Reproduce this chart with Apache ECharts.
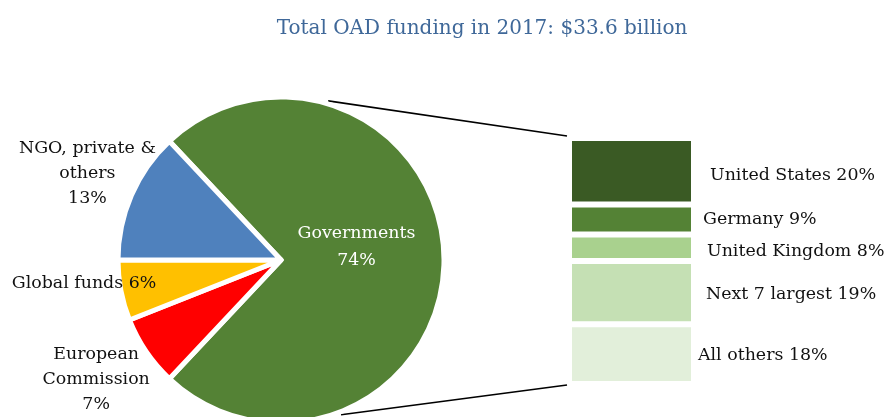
<!DOCTYPE html>
<html>
<head>
<meta charset="utf-8">
<script src="https://cdn.jsdelivr.net/npm/echarts@6/dist/echarts.min.js"></script>
<style>
  html, body { margin: 0; padding: 0; background: #fff; }
  #chart { width: 892px; height: 417px; }
</style>
</head>
<body>
<div id="chart"></div>
<script>
// Funding sources (share of total, %)
const sourceNames = ['Governments', 'European\nCommission', 'Global funds', 'NGO, private &\nothers'];
const sourceValues = [74, 7, 6, 13];

// Breakdown of the government share (%)
const donorNames = ['United States', 'Germany', 'United Kingdom', 'Next 7 largest', 'All others'];
const donorValues = [20, 9, 8, 19, 18];

const titleText = 'Total OAD funding in 2017: $33.6 billion';

const FONT = 'DejaVu Serif';
const sourceColors = ['#548235', '#FF0000', '#FFC000', '#4F81BD'];
const donorColors = ['#3A5A24', '#548235', '#A9D18E', '#C5E0B4', '#E2EFDA'];
// label nudges for the breakdown column [distance, dy]
const donorLabelNudge = [[16, 4], [9, 0], [13, 4], [12, 2], [4, 1]];
// label shifts for the pie
const sourceLabelShift = [[-9, -13], [-115, 72], [-114, 8], [-116, -53]];

const PIE_CENTER = [281, 260];
const PIE_R = 163;
const govSpan = sourceValues[0] / 100 * 360;
const startAngle = 180 - (360 - govSpan) / 2; // small slices centred on the left

// breakdown column geometry
const GRID = { left: 569, top: 138, width: 125, height: 246 };
const donorTotal = donorValues.reduce((a, b) => a + b, 0);

const chart = echarts.init(document.getElementById('chart'), null, { renderer: 'canvas' });

const donorSeries = donorNames.map((name, i) => ({
  type: 'bar',
  name: name,
  stack: 'gov',
  barWidth: GRID.width,
  data: [donorValues[i]],
  itemStyle: { color: donorColors[i], borderColor: '#ffffff', borderWidth: 3 },
  label: {
    show: true,
    position: 'right',
    distance: donorLabelNudge[i][0],
    offset: [0, donorLabelNudge[i][1]],
    formatter: (p) => p.seriesName + ' ' + p.value + '%',
    fontFamily: FONT,
    fontSize: 17.4,
    color: '#111'
  },
  emphasis: { disabled: true },
  silent: true
}));

// connector lines from the pie edge to the breakdown column
const rr = PIE_R + 3;
const a1 = 73.5 * Math.PI / 180, a2 = -68.8 * Math.PI / 180;
const p1 = [PIE_CENTER[0] + rr * Math.cos(a1), PIE_CENTER[1] - rr * Math.sin(a1)];
const p2 = [PIE_CENTER[0] + rr * Math.cos(a2), PIE_CENTER[1] - rr * Math.sin(a2)];
const colLeft = GRID.left - 2;
const colTop = GRID.top - 2;
const colBottom = GRID.top + GRID.height + 1;

chart.setOption({
  animation: false,
  title: {
    text: titleText,
    left: 477,
    textAlign: 'center',
    top: 14,
    textStyle: { fontFamily: FONT, fontSize: 20, fontWeight: 'normal', color: '#3F6899' }
  },
  grid: GRID,
  xAxis: { type: 'category', data: ['Governments'], show: false },
  yAxis: { type: 'value', min: 0, max: donorTotal, inverse: true, show: false },
  graphic: [
    { type: 'line', shape: { x1: p1[0], y1: p1[1], x2: colLeft, y2: colTop }, style: { stroke: '#000', lineWidth: 1.6 }, silent: true },
    { type: 'line', shape: { x1: p2[0], y1: p2[1], x2: colLeft, y2: colBottom }, style: { stroke: '#000', lineWidth: 1.6 }, silent: true }
  ],
  series: [
    {
      type: 'pie',
      center: PIE_CENTER,
      radius: [0, PIE_R],
      startAngle: startAngle,
      clockwise: true,
      avoidLabelOverlap: false,
      silent: true,
      data: sourceNames.map((n, i) => ({
        name: n,
        value: sourceValues[i],
        itemStyle: { color: sourceColors[i] },
        label: { color: i === 0 ? '#ffffff' : '#111111', lineHeight: i === 0 ? 27 : 25 }
      })),
      itemStyle: { borderColor: '#ffffff', borderWidth: 5 },
      label: {
        show: true,
        position: 'inside',
        formatter: (p) => p.name + (p.name === 'Global funds' ? ' ' : '\n') + p.value + '%',
        fontFamily: FONT,
        fontSize: 17.4,
        lineHeight: 25,
        align: 'center'
      },
      labelLine: { show: false },
      labelLayout: (params) => {
        const s = sourceLabelShift[params.dataIndex];
        return { dx: s[0], dy: s[1] };
      }
    },
    ...donorSeries
  ]
});
</script>
</body>
</html>
